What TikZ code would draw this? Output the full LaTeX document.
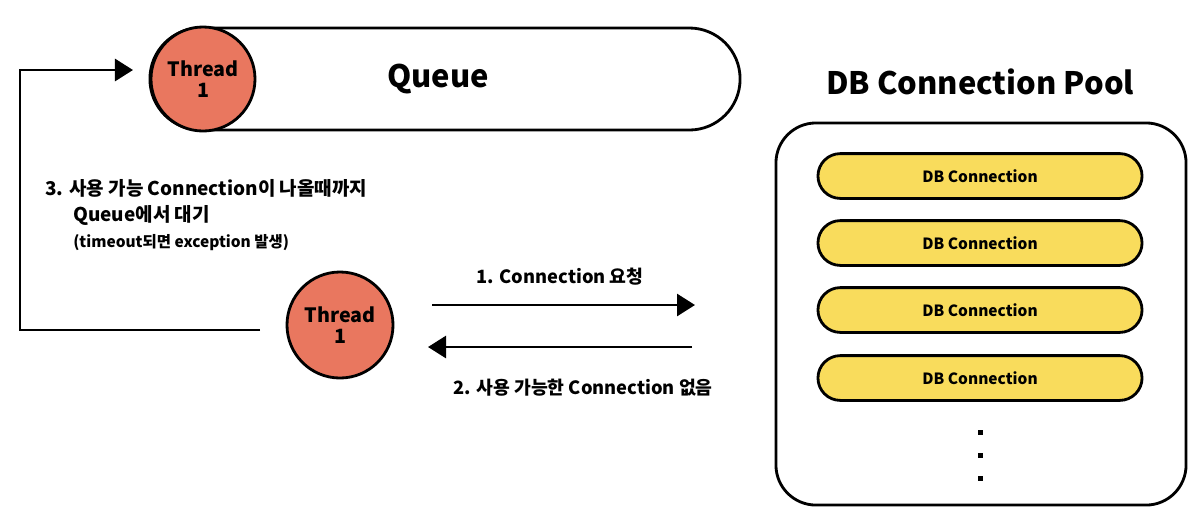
\documentclass[tikz,border=0pt]{standalone}
\usepackage{fontspec}
\setmainfont{Noto Sans CJK KR}
\usetikzlibrary{arrows.meta}

\definecolor{threadred}{HTML}{E9775F}
\definecolor{connyellow}{HTML}{F9DC5C}

\tikzset{
  thread/.style={circle,draw=black,line width=2pt,fill=threadred,minimum size=2.6cm,
    align=center,font=\bfseries\fontsize{14}{15}\selectfont,inner sep=0pt},
  conn/.style={rectangle,rounded corners=0.56cm,draw=black,line width=2pt,fill=connyellow,
    minimum width=8.1cm,minimum height=1.12cm,font=\bfseries\fontsize{11}{12}\selectfont},
  flow/.style={line width=2pt,-{Triangle[length=0.45cm,width=0.55cm]}},
  lbl/.style={font=\bfseries\fontsize{13}{14}\selectfont,inner sep=0pt}
}

\begin{document}
\begin{tikzpicture}[x=0.025cm,y=-0.025cm]

\useasboundingbox (0,0) rectangle (1200,522);

% queue with thread
\node[draw=black,line width=2pt,rounded corners=1.27cm,minimum width=14.75cm,minimum height=2.55cm,
  font=\bfseries\fontsize{22}{24}\selectfont] (queue) at (445,79) {\hspace*{-0.35cm}Queue};
\node[thread] (t1) at (203,79) {Thread\\1};

% pool
\node[font=\bfseries\fontsize{22}{24}\selectfont] (title) at (980,82) {DB Connection Pool};
\node[draw=black,line width=2pt,rounded corners=1cm,minimum width=10.25cm,minimum height=9.55cm] (pool) at (981,314) {};
\foreach \i/\y in {1/176,2/243,3/310,4/378}
  \node[conn] (c\i) at (980,\y) {DB Connection};
\foreach \y in {432,455,478}
  \fill (978,\y-2.5) rectangle +(5,5);

% thread asking
\node[thread,minimum size=2.65cm] (t2) at (340,325) {Thread\\1};

\coordinate (a1) at (432,305);
\coordinate (b1) at (695,305);
\coordinate (a2) at (692,347);
\coordinate (b2) at (428,347);
\draw[flow] (a1) -- (b1);
\draw[flow] (a2) -- (b2);
\node[lbl] (l1) at (560,277) {1. Connection 요청};
\node[lbl] (l2) at (583,388) {2. 사용 가능한 Connection 없음};

% back to queue
\coordinate (w0) at (260,330);
\coordinate (w1) at (133,70);
\draw[flow] (w0) -- (20,330) -- (20,70) -- (w1);

\node[lbl,anchor=west,font=\bfseries\fontsize{13.5}{14}\selectfont] (m1) at (45,188) {3. 사용 가능 Connection이 나올때까지};
\node[lbl,anchor=west,font=\bfseries\fontsize{13.5}{14}\selectfont] (m2) at (73,215) {Queue에서 대기};
\node[lbl,anchor=west,font=\bfseries\fontsize{11}{12}\selectfont] (m3) at (73,243) {(timeout되면 exception 발생)};

\end{tikzpicture}
\end{document}
